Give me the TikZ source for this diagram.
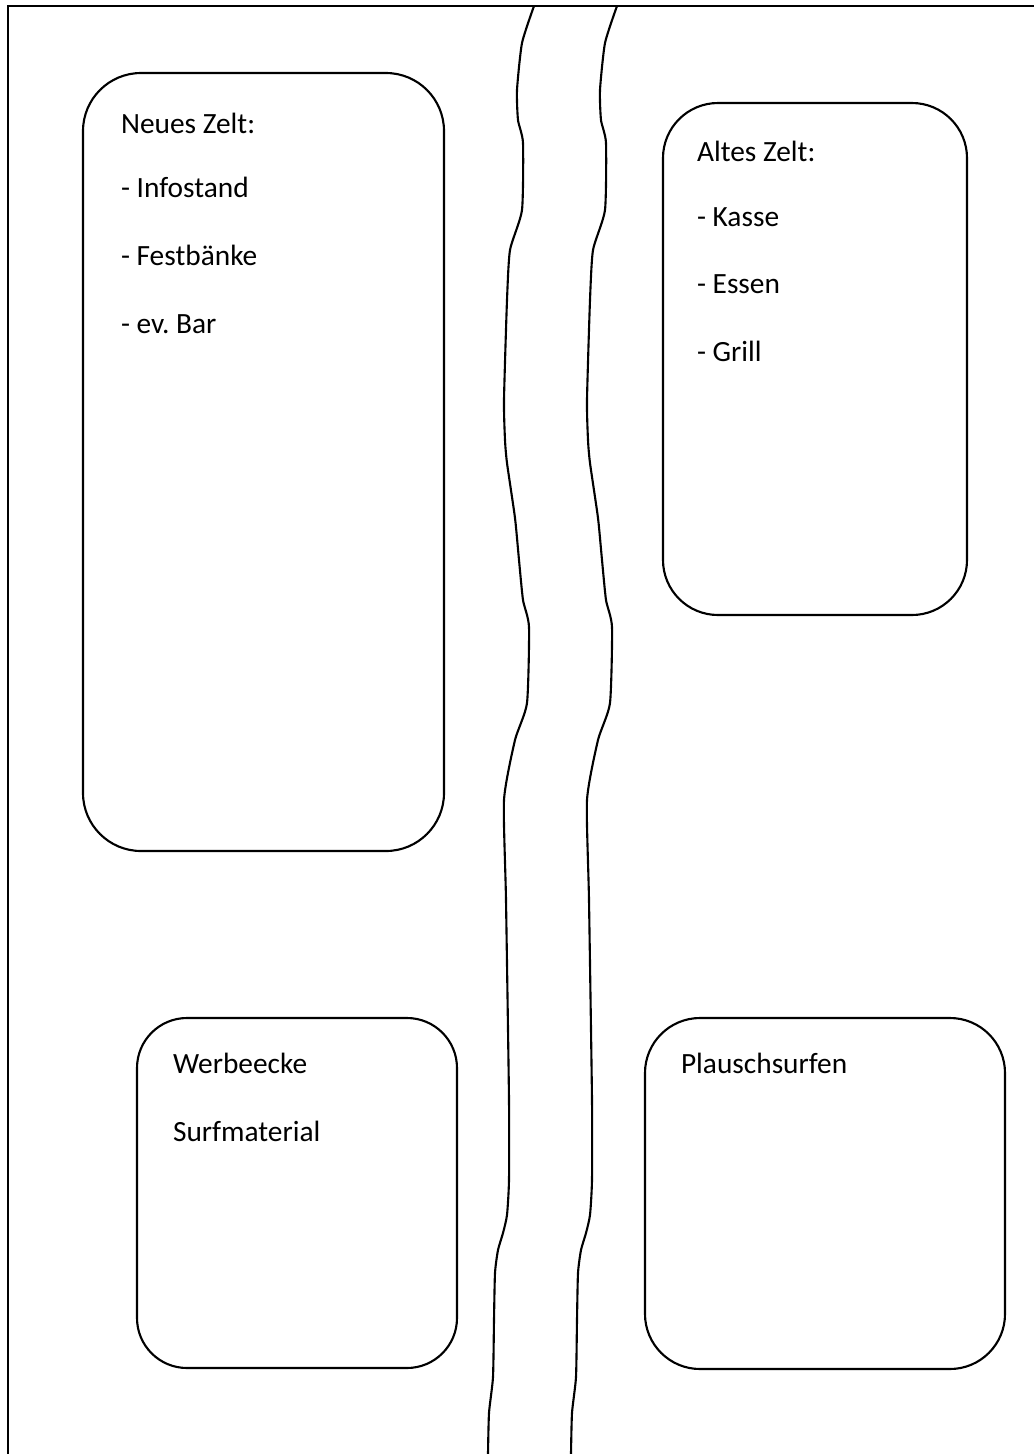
\documentclass[tikz,border=0pt]{standalone}
\usepackage{fontspec}
\setmainfont{Carlito}
\usetikzlibrary{calc}

\begin{document}
\begin{tikzpicture}[x=0.01cm,y=-0.01cm,line width=0.6pt,
  zelt/.style={rounded corners=#1},
  zeile/.style={anchor=base west,inner sep=0pt,font=\fontsize{8.35}{10}\selectfont}]
\useasboundingbox (0,0) rectangle (1034,1454);
\draw (8,1454)--(8,6)--(1034,6);
\foreach \dx in {0,83}{
\begin{scope}[shift={(\dx,0)}]
\draw plot[smooth,tension=0.35] coordinates {(534,6) (522,43) (517,90) (518,120) (523,143) (522,210) (510,250) (507,300) (504,400) (505,440) (507,463) (515,518) (519,560) (523,600) (529,627) (527,703) (515,740) (504,800) (506,900) (509,1100) (509,1180) (507,1215) (503,1233) (498,1250) (495,1273) (494,1320) (493,1377) (489,1413) (488,1454)};
\end{scope}}
\draw[zelt=0.58cm] (83,73) rectangle (444,851);
\draw[zelt=0.55cm] (663,103) rectangle (967,615);
\draw[zelt=0.5cm] (137,1018) rectangle (457,1368);
\draw[zelt=0.55cm] (645,1018) rectangle (1005,1369);
\node[zeile] (neu) at (120,133) {Neues Zelt:};
\node[zeile] (neuA) at (120,197) {- Infostand};
\node[zeile] (neuB) at (120,265) {- Festbänke};
\node[zeile] (neuC) at (120,333) {- ev.\ Bar};
\node[zeile] (alt) at (696,161) {Altes Zelt:};
\node[zeile] (altA) at (696,226) {- Kasse};
\node[zeile] (altB) at (696,293) {- Essen};
\node[zeile] (altC) at (696,361) {- Grill};
\node[zeile] (werbe) at (172,1073) {Werbeecke};
\node[zeile] (surf) at (172,1141) {Surfmaterial};
\node[zeile] (plausch) at (680,1073) {Plauschsurfen};
\end{tikzpicture}
\end{document}
